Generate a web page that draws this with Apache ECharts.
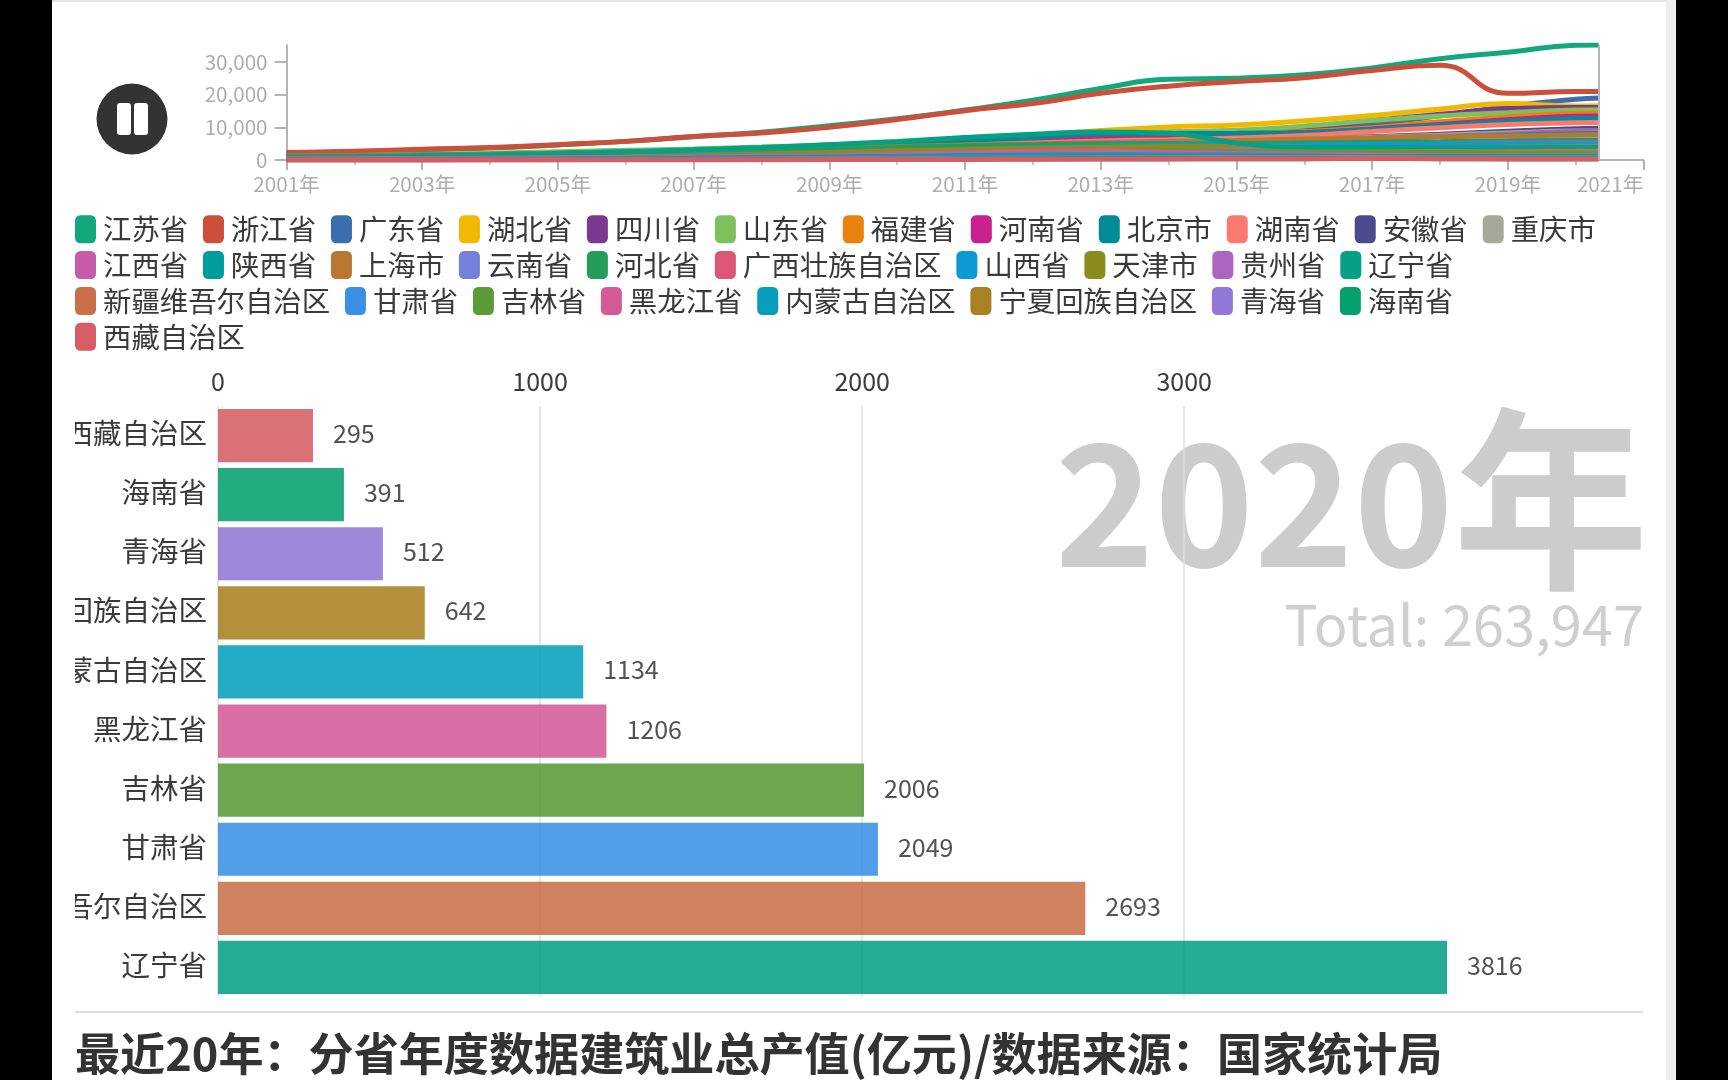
<!DOCTYPE html>
<html><head><meta charset="utf-8">
<style>
html,body{margin:0;padding:0;background:#000;width:1728px;height:1080px;overflow:hidden}
#page{position:absolute;left:52px;top:0;width:1614px;height:1080px;background:#fff;border-top:2px solid #e4e4e4;box-sizing:border-box}
#edge{position:absolute;left:1666px;top:0;width:10px;height:1080px;background:#eeeeee}
#chart{position:absolute;left:0;top:0;width:1728px;height:1080px}
</style>
<script src="https://cdn.jsdelivr.net/npm/echarts@6/dist/echarts.min.js"></script>
</head><body>
<div id="page"></div><div id="edge"></div><div id="chart"></div>
<script>
const FONT = '"Noto Sans CJK SC","Noto Sans",sans-serif';
const years = [2001,2002,2003,2004,2005,2006,2007,2008,2009,2010,2011,2012,2013,2014,2015,2016,2017,2018,2019,2020,2020.34];
const playheadYear = 2020.34;
const yearDigits = '2020', yearUnit = '年';
const chartTitle = '最近20年：分省年度数据建筑业总产值(亿元)/数据来源：国家统计局';

const names = ['江苏省','浙江省','广东省','湖北省','四川省','山东省','福建省','河南省','北京市','湖南省','安徽省','重庆市','江西省','陕西省','上海市','云南省','河北省','广西壮族自治区','山西省','天津市','贵州省','辽宁省','新疆维吾尔自治区','甘肃省','吉林省','黑龙江省','内蒙古自治区','宁夏回族自治区','青海省','海南省','西藏自治区'];
const colors = ['#12a87b','#cc4f3a','#3a6ead','#f0b800','#7b3a8f','#7fbf5e','#e8820c','#c91f8f','#008b96','#fb7a70','#4c4a8d','#a3a998','#c75aaa','#009c9c','#b9772f','#757fdc','#249d5c','#dd5675','#0d9ad2','#8a8d1d','#ad66bf','#06a085','#c96f4a','#3a90e5','#5a9a38','#d25a97','#059fbd','#aa8122','#8f78d6','#04a06e','#d65d63'];

const jiangsu = [2150,2500,3100,3700,4600,5700,7100,8500,10500,12600,15300,18300,21900,24700,25000,26100,28200,31000,33000,35100,35200];
const zhejiang = [2300,2650,3300,3800,4700,5700,7200,8300,10000,12400,15100,17300,20400,22600,24000,25200,27400,29000,20400,21000,21000];
const guangdong = [1150,1300,1550,1850,2250,2700,3200,3700,4500,5300,6400,7200,8000,8500,8900,9500,11000,13500,16400,18600,19000];
const hubei = [850,1000,1200,1450,1750,2150,2700,3300,4100,5100,6300,7500,9000,10100,10700,12000,13600,15600,17300,16500,16600];
const sichuan = [800,950,1150,1400,1700,2100,2600,3100,3900,4800,5900,6700,7600,8200,8700,10000,12000,14000,15700,16100,16100];
const shandong = [1200,1350,1700,2050,2500,2950,3400,3950,4650,5400,6400,7100,8000,8600,9100,10400,12100,13500,14500,15300,15400];
const fujian = [600,700,850,1050,1300,1650,2100,2600,3300,4200,5200,6100,7100,7700,8000,8700,9900,11700,13200,14200,14300];
const henan = [700,800,950,1150,1450,1800,2300,2800,3500,4300,5100,6000,7000,7400,7800,8400,9500,10900,12300,13400,13500];
const beijing = [1150,1300,1500,1750,2100,2500,2950,3450,4150,5000,5900,6900,8000,8100,8200,8350,9300,10600,11800,12700,12800];
const hunan = [600,700,850,1000,1250,1550,1950,2350,3000,3700,4500,5200,5800,6200,6700,7500,8700,9900,10900,11400,11500];
const anhui = [450,520,650,800,1000,1250,1600,2000,2500,3100,3800,4400,5000,5400,5800,6300,7100,7900,8800,9600,9700];
const chongqing = [300,370,470,600,750,950,1200,1550,2000,2550,3300,4100,4900,5500,6000,6400,7000,7600,8300,8880,8903];
const jiangxi = [250,300,400,500,650,830,1050,1300,1700,2200,2800,3400,4000,4600,5200,5800,6500,7200,7900,8750,8800];
const shaanxi = [450,530,650,800,1000,1250,1550,1950,2500,3100,3800,4400,4900,5300,5600,6000,6600,7100,7600,8050,8100];
const shanghai = [1150,1300,1500,1750,2050,2400,2750,3150,3600,4100,4600,4900,5300,5700,6000,6400,6800,7200,7400,7650,7700];
const yunnan = [250,300,380,470,600,750,950,1200,1550,2000,2500,3000,3500,4000,4300,4700,5100,5500,5900,6180,6200];
const hebei = [750,850,1000,1200,1450,1750,2100,2550,3200,3850,4300,4700,5000,5000,5000,5200,5400,5600,5800,5980,6000];
const guangxi = [300,350,430,530,650,800,1000,1250,1600,2050,2600,3000,3400,3700,3900,4200,4500,4800,5100,5280,5300];
const shanxi = [500,600,750,900,1100,1350,1650,1950,2350,2800,3300,3800,4300,4600,4500,4600,4700,4800,4900,4980,5000];
const tianjin = [400,480,600,730,900,1100,1400,1800,2300,2800,3200,3600,3900,4100,4100,3900,3700,3700,3900,4080,4100];
const guizhou = [130,160,210,270,340,430,550,700,900,1150,1500,1900,2400,2800,3100,3300,3500,3700,3850,3980,4000];
const liaoning = [900,1050,1300,1600,2000,2500,3100,3800,4700,5700,6900,7900,8600,8200,5200,3800,3800,3750,3780,3810,3816];
const xinjiang = [180,210,260,320,390,470,570,690,850,1050,1350,1700,2100,2400,2300,2200,2400,2600,2500,2680,2693];
const gansu = [150,180,220,270,330,400,480,580,720,900,1150,1400,1600,1750,1750,1750,1800,1850,1950,2040,2049];
const jilin = [250,290,350,430,530,650,820,1050,1300,1600,1900,2200,2500,2800,2700,2600,2500,2300,2100,2000,2006];
const heilongjiang = [350,400,470,560,680,800,950,1150,1400,1800,2200,2600,2700,2400,2000,1800,1500,1300,1250,1200,1206];
const neimenggu = [120,150,200,260,340,450,580,750,950,1150,1350,1500,1600,1550,1450,1300,1100,1050,1100,1130,1134];
const ningxia = [50,60,80,100,130,160,200,260,330,420,490,540,610,660,680,700,680,640,630,640,642];
const qinghai = [40,50,70,90,110,140,170,210,260,320,390,460,520,560,590,600,600,530,500,510,512];
const hainan = [25,30,35,45,55,70,90,120,160,210,270,320,370,390,410,420,430,420,400,390,391];
const xizang = [15,20,30,40,55,70,85,100,120,150,180,220,280,340,360,400,450,380,320,295,295];

const table = [jiangsu,zhejiang,guangdong,hubei,sichuan,shandong,fujian,henan,beijing,hunan,anhui,chongqing,jiangxi,shaanxi,shanghai,yunnan,hebei,guangxi,shanxi,tianjin,guizhou,liaoning,xinjiang,gansu,jilin,heilongjiang,neimenggu,ningxia,qinghai,hainan,xizang];

const total = table.reduce((s,a)=>s+a[a.length-1],0);
const shownFrom = 21; // the race shows the ten smallest provinces
const barNames = names.slice(shownFrom);
const barValues = table.slice(shownFrom).map(a=>a[a.length-1]);
const barColors = colors.slice(shownFrom);

const axisGray = '#b4b4b4', labelGray = '#adadad', ink = '#3a3a3a';

const lineSeries = names.map((n,i)=>({
  type:'line', name:n, xAxisIndex:0, yAxisIndex:0, smooth:0.5, symbol:'none', silent:true,
  color:colors[i], lineStyle:{width:5,color:colors[i]},
  data:years.map((y,k)=>[y,table[i][k]]),
  markLine:i===0?{silent:true,symbol:'none',animation:false,label:{show:false},
    lineStyle:{color:axisGray,width:2,type:'solid'},data:[{xAxis:playheadYear}]}:undefined
}));

const barSeries = {
  type:'bar', xAxisIndex:1, yAxisIndex:1, barCategoryGap:'10%', silent:true,
  data:barValues.map((v,i)=>({value:v,itemStyle:{color:barColors[i],opacity:0.88}})),
  label:{show:true,position:'right',distance:20,offset:[0,-2],fontSize:25,color:ink,fontFamily:FONT}
};

const chart = echarts.init(document.getElementById('chart'),null,{renderer:'canvas'});
chart.setOption({
  animation:false,
  backgroundColor:'transparent',
  textStyle:{fontFamily:FONT},
  legend:{
    left:75, top:215, width:1540, padding:0, icon:'roundRect', itemWidth:21, itemHeight:28, itemGap:7.5,
    data:names, selectedMode:false,
    textStyle:{fontSize:28.4,color:ink,fontFamily:FONT,lineHeight:28,padding:[0,7.3,0,2]}
  },
  grid:[
    {left:286.5,right:84.5,top:45,height:115,containLabel:false,outerBoundsMode:'none'},
    {left:218,right:281,top:406,height:591,containLabel:false,outerBoundsMode:'none'}
  ],
  xAxis:[
    {type:'value',gridIndex:0,min:2001,max:2021,interval:2,
     axisLine:{show:true,lineStyle:{color:axisGray,width:2}},
     axisTick:{show:true,length:10,lineStyle:{color:axisGray,width:2}},
     minorTick:{show:true,splitNumber:2,length:5,lineStyle:{color:axisGray,width:1.5}},
     splitLine:{show:false},minorSplitLine:{show:false},
     axisLabel:{fontSize:20.7,color:labelGray,margin:14,fontFamily:FONT,alignMaxLabel:'right',formatter:v=>v+'年'}},
    {type:'value',gridIndex:1,position:'top',min:0,max:'dataMax',interval:1000,
     axisLine:{show:false},axisTick:{show:false},
     splitLine:{show:true,showMaxLine:false,lineStyle:{color:'#dedede',width:1.5}},
     axisLabel:{fontSize:25,color:ink,margin:12,fontFamily:FONT,showMaxLabel:false,formatter:v=>String(v)}}
  ],
  yAxis:[
    {type:'value',gridIndex:0,min:0,max:35200,interval:10000,
     axisLine:{show:true,lineStyle:{color:axisGray,width:2}},
     axisTick:{show:true,length:12,lineStyle:{color:axisGray,width:2}},
     splitLine:{show:false},
     axisLabel:{fontSize:20.6,color:labelGray,margin:19,fontFamily:FONT,showMaxLabel:false}},
    {type:'category',gridIndex:1,data:barNames,
     axisLine:{show:false},axisTick:{show:false},splitLine:{show:false},
     axisLabel:{fontSize:28.5,color:ink,margin:11,verticalAlign:'bottom',lineHeight:4.4,fontFamily:FONT,interval:0,hideOverlap:false}}
  ],
  series:[...lineSeries,barSeries],
  graphic:[
    {type:'text',z:-1,silent:true,style:{x:1648.5,y:500,text:'{d|'+yearDigits+'}{y|'+yearUnit+'}',align:'right',verticalAlign:'middle',fill:'#cccccc',fontFamily:FONT,fontWeight:'bold',
      rich:{d:{fontSize:169,fontWeight:'bold',fontFamily:FONT,fill:'#cccccc',padding:[6,0,0,0]},y:{fontSize:195,fontWeight:'bold',fontFamily:FONT,fill:'#cccccc'}}}},
    {type:'text',z:-1,silent:true,style:{x:1644,y:625,text:'Total: '+total.toLocaleString('en-US'),align:'right',verticalAlign:'middle',fill:'#cfcfcf',fontSize:56,fontFamily:FONT}},
    {type:'rect',z:50,silent:true,shape:{x:52,y:400,width:23,height:600},style:{fill:'#ffffff'}},
    {type:'rect',z:51,silent:true,shape:{x:0,y:400,width:52,height:600},style:{fill:'#000000'}},
    {type:'line',z:5,silent:true,shape:{x1:75,y1:1012,x2:1643,y2:1012},style:{stroke:'#dddddd',lineWidth:2}},
    {type:'text',z:5,silent:true,style:{x:75,y:1054,text:chartTitle,align:'left',verticalAlign:'middle',fill:'#333333',fontSize:45.1,fontWeight:'bold',fontFamily:FONT}},
    {type:'circle',z:5,silent:true,shape:{cx:132,cy:119,r:35.5},style:{fill:'#333333'}},
    {type:'rect',z:6,silent:true,shape:{x:117,y:103,width:14,height:32,r:3},style:{fill:'#ffffff'}},
    {type:'rect',z:6,silent:true,shape:{x:134,y:103,width:14,height:32,r:3},style:{fill:'#ffffff'}}
  ]
});
</script>
</body></html>
